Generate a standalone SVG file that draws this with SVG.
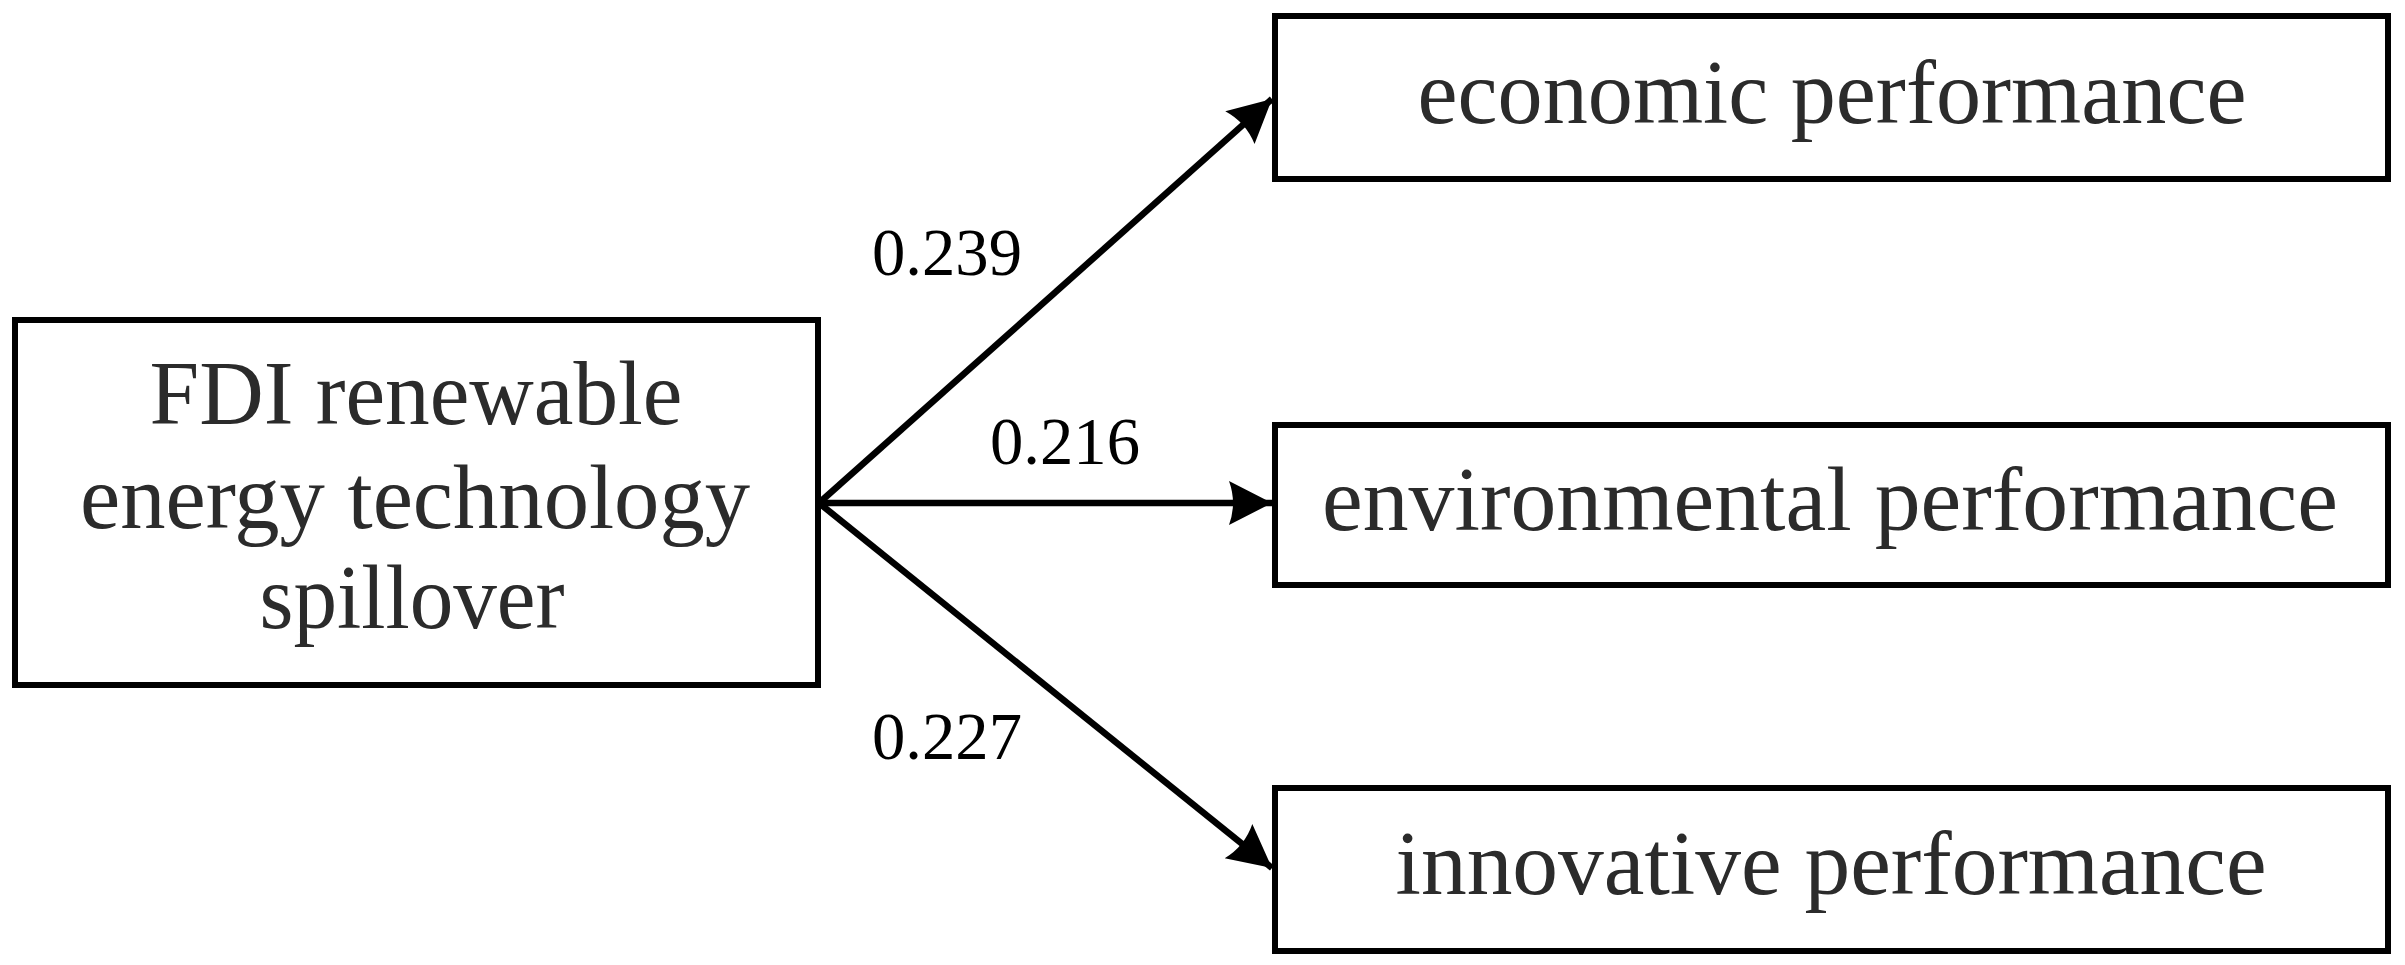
<svg xmlns="http://www.w3.org/2000/svg" width="2405" height="965" viewBox="0 0 2405 965">
<style>
.box{fill:#ffffff;stroke:#000000;stroke-width:6}
.nt{font-family:"Liberation Serif","Times New Roman",serif;font-size:90px;fill:#2b2b2b;text-anchor:middle}
.lbl{font-family:"Liberation Serif","Times New Roman",serif;font-size:68px;fill:#000000}
.edge{stroke:#000000;stroke-width:6.5;fill:none;marker-end:url(#arr)}
</style>
<defs>
<marker id="arr" markerUnits="userSpaceOnUse" viewBox="-46 -24 48 48" refX="0" refY="0" markerWidth="48" markerHeight="48" orient="auto">
<path d="M0,0 L-43,-22 Q-35,0 -43,22 Z" fill="#000000"/>
</marker>
</defs>
<rect width="2405" height="965" fill="#ffffff"/>
<g id="connectors">
<line class="edge" x1="819" y1="503" x2="1272" y2="99"/>
<line class="edge" x1="819" y1="503" x2="1272" y2="503"/>
<line class="edge" x1="819" y1="503" x2="1272" y2="868"/>
<text class="lbl" x="872" y="275" textLength="150" lengthAdjust="spacingAndGlyphs">0.239</text>
<text class="lbl" x="990" y="464" textLength="150" lengthAdjust="spacingAndGlyphs">0.216</text>
<text class="lbl" x="872" y="759" textLength="150" lengthAdjust="spacingAndGlyphs">0.227</text>
</g>
<g id="node-fdi">
<rect class="box" x="15" y="320" width="803" height="365"/>
<text class="nt" x="416" y="424" textLength="533" lengthAdjust="spacingAndGlyphs">FDI renewable</text>
<text class="nt" x="415" y="528" textLength="670" lengthAdjust="spacingAndGlyphs">energy technology</text>
<text class="nt" x="412" y="628" textLength="305" lengthAdjust="spacingAndGlyphs">spillover</text>
</g>
<g id="node-economic">
<rect class="box" x="1275" y="16" width="1113" height="163"/>
<text class="nt" x="1832" y="123" textLength="829" lengthAdjust="spacingAndGlyphs">economic performance</text>
</g>
<g id="node-environmental">
<rect class="box" x="1275" y="425" width="1113" height="160"/>
<text class="nt" x="1830" y="530" textLength="1016" lengthAdjust="spacingAndGlyphs">environmental performance</text>
</g>
<g id="node-innovative">
<rect class="box" x="1275" y="788" width="1113" height="163"/>
<text class="nt" x="1831" y="894" textLength="871" lengthAdjust="spacingAndGlyphs">innovative performance</text>
</g>
</svg>
